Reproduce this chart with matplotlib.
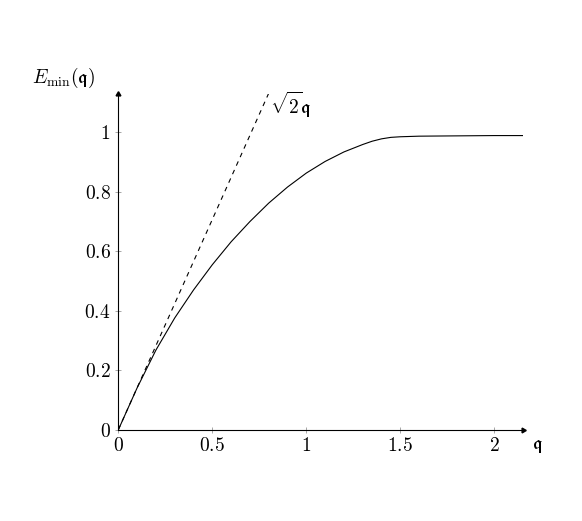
import matplotlib
matplotlib.use("Agg")
import matplotlib.pyplot as plt

plt.rcParams['mathtext.fontset'] = 'cm'
plt.rcParams['font.family'] = 'serif'
plt.rcParams['font.serif'] = ['DejaVu Serif']

# curve values
q_vals = [0.0, 0.1, 0.2, 0.3, 0.4, 0.5, 0.6, 0.7, 0.8, 0.9, 1.0, 1.1, 1.2,
          1.3, 1.35, 1.4, 1.45, 1.5, 1.6, 1.8, 2.0, 2.15]
e_vals = [0.0, 0.141, 0.268, 0.376, 0.470, 0.555, 0.632, 0.700, 0.762, 0.816,
          0.863, 0.902, 0.934, 0.959, 0.970, 0.978, 0.983, 0.985, 0.987,
          0.988, 0.989, 0.989]

# asymptote sqrt(2) q
asym_q = [0.0, 0.8]
asym_e = [0.0, 1.1314]

xticks = [0, 0.5, 1, 1.5, 2]
xtick_labels = ['$0$', '$0.5$', '$1$', '$1.5$', '$2$']
yticks = [0, 0.2, 0.4, 0.6, 0.8, 1]
ytick_labels = ['$0$', '$0.2$', '$0.4$', '$0.6$', '$0.8$', '$1$']

fig = plt.figure(figsize=(5.82, 5.21), dpi=100)
ax = fig.add_axes([0.2033, 0.175, 0.6945, 0.6453])

ax.plot(q_vals, e_vals, color='black', lw=0.8)
ax.plot(asym_q, asym_e, color='black', lw=0.8, linestyle=(0, (4.2, 4.2)))

ax.set_xlim(0, 2.15)
ax.set_ylim(0, 1.13)

for s in ['top', 'right']:
    ax.spines[s].set_visible(False)
for s in ['left', 'bottom']:
    ax.spines[s].set_linewidth(0.8)
    ax.spines[s].set_color('black')

ax.plot(1, 0, marker=(3, 0, -90), color='black', markersize=4,
        transform=ax.get_yaxis_transform(), clip_on=False)
ax.plot(0, 1, marker=(3, 0, 0), color='black', markersize=4,
        transform=ax.get_xaxis_transform(), clip_on=False)

ax.set_xticks(xticks)
ax.set_xticklabels(xtick_labels)
ax.set_yticks(yticks)
ax.set_yticklabels(ytick_labels)
ax.tick_params(direction='inout', length=5, width=0.6, color='#999999',
               labelsize=14, pad=3)

ax.text(0.808, 1.092, r'$\sqrt{2}\mathfrak{q}$', fontsize=14,
        ha='left', va='center')
ax.text(-0.46, 1.183, r'$E_{\min}(\mathfrak{q})$', fontsize=14,
        ha='left', va='center')
ax.text(2.2, -0.055, r'$\mathfrak{q}$', fontsize=14, ha='left', va='center')

fig.savefig('out.png', dpi=100)
